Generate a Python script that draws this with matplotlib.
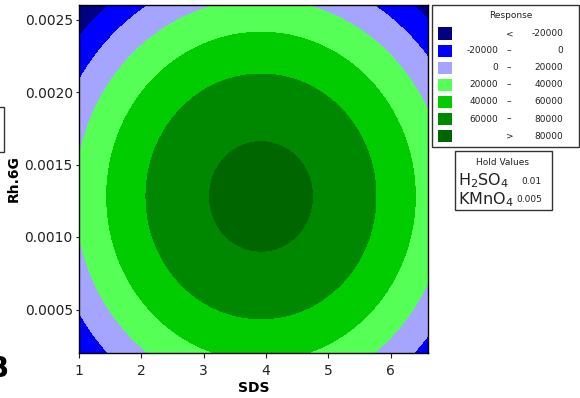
import numpy as np
import matplotlib
matplotlib.use("Agg")
import matplotlib.pyplot as plt
from matplotlib.patches import Rectangle

# fitted response surface (quadratic, hold values fixed)
peak_response = 85000
sds_center = 3.92
rh_center = 0.00128
sds_curvature = 7340        # response drop per unit^2 of SDS
rh_curvature = 3.51e10      # response drop per unit^2 of Rh.6G

sds_range = [1.0, 6.6]
rh_range = [0.0002, 0.0026]

levels = [-20000, 0, 20000, 40000, 60000, 80000]
colors = ["#000080", "#0000FF", "#A5A5FF", "#55FF55", "#00CC00", "#008800", "#006600"]

x_ticks = [1, 2, 3, 4, 5, 6]
y_ticks = [0.0005, 0.0010, 0.0015, 0.0020, 0.0025]

hold_names = ["H$_2$SO$_4$", "KMnO$_4$"]
hold_values = ["0.01", "0.005"]

W, H = 580, 398
fig = plt.figure(figsize=(W / 100, H / 100), dpi=100)
ax = fig.add_axes([79 / W, 45 / H, 349 / W, 348 / H])

xs = np.linspace(sds_range[0], sds_range[1], 400)
ys = np.linspace(rh_range[0], rh_range[1], 400)
X, Y = np.meshgrid(xs, ys)
Z = peak_response - sds_curvature * (X - sds_center) ** 2 - rh_curvature * (Y - rh_center) ** 2

bounds = [Z.min() - 1] + levels + [Z.max() + 1]
ax.contourf(X, Y, Z, levels=bounds, colors=colors)

ax.set_xlim(*sds_range)
ax.set_ylim(*rh_range)
ax.set_xticks(x_ticks)
ax.set_yticks(y_ticks)
ax.set_yticklabels([f"{v:.4f}" for v in y_ticks])
ax.tick_params(axis="x", length=3.5, pad=4.5, labelsize=10, colors="#222222")
ax.tick_params(axis="y", length=2.5, pad=2, labelsize=10, colors="#222222")
for s in ax.spines.values():
    s.set_linewidth(1.0)
ax.set_xlabel("SDS", fontsize=10, fontweight="bold", labelpad=2)
ax.set_ylabel("Rh.6G", fontsize=10, fontweight="bold", labelpad=3)

# legend box drawn in pixel positions
def fx(px):
    return px / W


def fy(py):
    return (H - py) / H


tc = "#222222"
fig.add_artist(Rectangle((fx(432), fy(147)), fx(579) - fx(432), fy(5) - fy(147),
                         transform=fig.transFigure, fill=False, lw=1, ec="#333333"))
fig.text(fx(511), fy(16), "Response", fontsize=6.5, ha="center", va="center", color=tc)
n = len(colors)
for i in range(n):
    yc = 33.5 + i * 17.1
    fig.add_artist(Rectangle((fx(438), fy(yc + 6)), fx(452) - fx(438), fy(yc - 6) - fy(yc + 6),
                             transform=fig.transFigure, color=colors[i], lw=0))
    if i == 0:
        fig.text(fx(510), fy(yc), "<", fontsize=6.5, ha="center", va="center", color=tc)
        fig.text(fx(563), fy(yc), f"{levels[0]}", fontsize=6.5, ha="right", va="center", color=tc)
    elif i == n - 1:
        fig.text(fx(510), fy(yc), ">", fontsize=6.5, ha="center", va="center", color=tc)
        fig.text(fx(563), fy(yc), f"{levels[-1]}", fontsize=6.5, ha="right", va="center", color=tc)
    else:
        fig.text(fx(498), fy(yc), f"{levels[i - 1]}", fontsize=6.5, ha="right", va="center", color=tc)
        fig.text(fx(509), fy(yc), "\u2013", fontsize=6.5, ha="center", va="center", color=tc)
        fig.text(fx(563), fy(yc), f"{levels[i]}", fontsize=6.5, ha="right", va="center", color=tc)

# hold values box
fig.add_artist(Rectangle((fx(455), fy(210)), fx(552) - fx(455), fy(151) - fy(210),
                         transform=fig.transFigure, fill=False, lw=1, ec="#333333"))
fig.text(fx(503), fy(162.5), "Hold Values", fontsize=6.5, ha="center", va="center", color=tc)
fig.text(fx(458), fy(185), hold_names[0], fontsize=11.5, ha="left", va="baseline", color=tc)
fig.text(fx(531), fy(181), hold_values[0], fontsize=6.5, ha="center", va="center", color=tc)
fig.text(fx(458), fy(204), hold_names[1], fontsize=11.5, ha="left", va="baseline", color=tc)
fig.text(fx(529), fy(199), hold_values[1], fontsize=6.5, ha="center", va="center", color=tc)

# cropped bits at the left edge
fig.add_artist(Rectangle((fx(-30), fy(152)), fx(34), fy(107) - fy(152),
                         transform=fig.transFigure, fill=False, lw=1, ec="#333333"))
fig.text(fx(9), fy(377), "B", fontsize=20, fontweight="bold", ha="right", va="baseline")

plt.savefig("out.png", dpi=100)
